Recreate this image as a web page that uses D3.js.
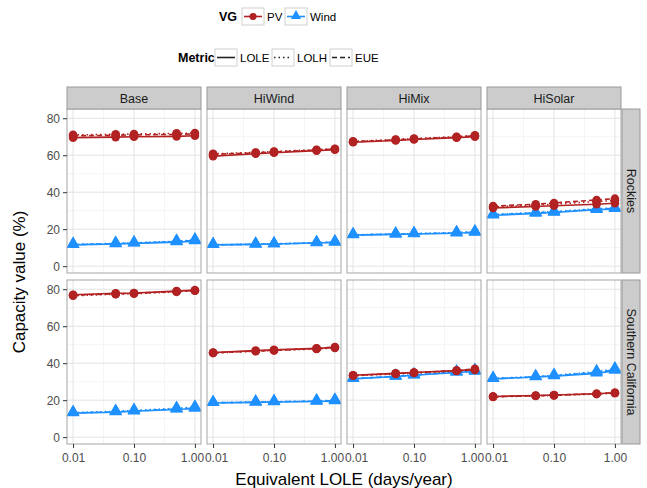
<!DOCTYPE html>
<html>
<head>
<meta charset="utf-8">
<script src="https://cdn.jsdelivr.net/npm/d3@7"></script>
<style>
body { margin: 0; background: #fff; }
text { font-family: "Liberation Sans", Arial, sans-serif; }
</style>
</head>
<body>
<div id="chart"></div>
<script>
// categories
var scenarios = ["Base", "HiWind", "HiMix", "HiSolar"];
var regions = ["Rockies", "Southern California"];
var metrics = ["LOLE", "LOLH", "EUE"];
var vgs = ["PV", "Wind"];
var xVals = [0.01, 0.05, 0.1, 0.5, 1.0];
var xTicks = [0.01, 0.1, 1];
var yTicks = [0, 20, 40, 60, 80];

// values [scenario][metric][x]  (metric order LOLE, LOLH, EUE)
var rockiesPV = [
    [[69.5, 69.8, 70.0, 70.2, 70.5], [71.0, 71.3, 71.5, 71.8, 72.0], [70.5, 70.8, 71.0, 71.3, 71.5]],
    [[59.5, 60.8, 61.3, 62.5, 63.0], [60.8, 61.5, 62.0, 63.0, 63.5], [60.5, 61.3, 61.8, 62.8, 63.3]],
    [[67.0, 68.0, 68.5, 69.5, 70.0], [67.5, 68.5, 69.0, 70.0, 70.8], [67.3, 68.3, 68.8, 69.8, 70.5]],
    [[31.5, 32.3, 32.7, 33.5, 34.0], [32.0, 33.0, 33.5, 35.0, 35.5], [32.5, 33.5, 34.2, 35.8, 36.5]]
];
var rockiesWind = [
    [[11.5, 12.0, 12.3, 13.0, 13.5], [11.8, 12.3, 12.6, 13.5, 14.2], [11.6, 12.2, 12.5, 13.3, 14.0]],
    [[11.5, 11.8, 12.0, 12.5, 12.8], [11.6, 11.9, 12.1, 12.7, 13.1], [11.5, 11.8, 12.0, 12.6, 13.0]],
    [[16.8, 17.2, 17.4, 17.8, 18.2], [17.0, 17.4, 17.6, 18.2, 18.6], [16.9, 17.3, 17.5, 18.0, 18.4]],
    [[27.5, 28.5, 29.0, 30.5, 31.0], [28.0, 29.0, 29.6, 31.0, 31.6], [27.8, 28.8, 29.3, 30.8, 31.3]]
];
var socalPV = [
    [[77.0, 77.8, 78.0, 79.0, 79.5], [76.5, 77.3, 77.6, 78.6, 79.2], [76.8, 77.5, 77.8, 78.8, 79.3]],
    [[45.8, 46.8, 47.2, 48.0, 48.5], [45.5, 46.5, 46.9, 47.7, 48.3], [45.6, 46.6, 47.0, 47.9, 48.8]],
    [[33.5, 34.5, 35.0, 36.0, 36.5], [33.2, 34.2, 34.7, 35.8, 36.3], [33.4, 34.4, 34.9, 36.0, 37.0]],
    [[22.0, 22.5, 22.8, 23.5, 24.0], [21.8, 22.3, 22.6, 23.3, 23.8], [21.9, 22.4, 22.7, 23.5, 24.0]]
];
var socalWind = [
    [[13.0, 13.5, 14.0, 15.0, 15.5], [13.3, 14.0, 14.5, 15.6, 16.3], [13.1, 13.7, 14.2, 15.2, 15.8]],
    [[18.5, 18.8, 19.0, 19.3, 19.5], [18.7, 19.0, 19.2, 19.6, 20.0], [18.6, 18.9, 19.1, 19.5, 19.8]],
    [[31.5, 32.8, 33.5, 35.0, 35.5], [31.7, 33.0, 33.7, 35.3, 36.2], [31.6, 32.9, 33.6, 35.1, 35.8]],
    [[31.5, 32.5, 33.0, 34.5, 36.0], [31.8, 32.8, 33.4, 35.5, 37.0], [31.6, 32.6, 33.2, 35.0, 36.5]]
];
var seriesData = {
    "Rockies": {PV: rockiesPV, Wind: rockiesWind},
    "Southern California": {PV: socalPV, Wind: socalWind}
};

var W = 647, H = 488;
var m = {left: 67, top: 87};
var pw = 134, gap = 6, ph = 164, stripH = 22, stripW = 18;
var rowTop = [109, 280];

var color = {PV: "#B22222", Wind: "#1E90FF"};
var dash = {LOLE: null, LOLH: "1.5,3", EUE: "5,3"};

var x = d3.scaleLog().domain([Math.pow(10, -2.1), Math.pow(10, 0.1)]).range([0, pw]);
var y = d3.scaleLinear().domain([-3.7, 85]).range([ph, 0]);

var svg = d3.select("#chart").append("svg")
    .attr("width", W).attr("height", H);

var line = d3.line()
    .x(function(d) { return x(d[0]); })
    .y(function(d) { return y(d[1]); });

var tri = d3.symbol().type(d3.symbolTriangle).size(70);

regions.forEach(function(reg, ri) {
    scenarios.forEach(function(sc, si) {
        var g = svg.append("g")
            .attr("transform", "translate(" + (m.left + si * (pw + gap)) + "," + rowTop[ri] + ")");
        g.append("rect").attr("width", pw).attr("height", ph).attr("fill", "#fff");
        // minor grid
        [0.0316, 0.316].forEach(function(v) {
            g.append("line").attr("x1", x(v)).attr("x2", x(v)).attr("y1", 0).attr("y2", ph)
                .attr("stroke", "#f4f4f4");
        });
        [10, 30, 50, 70].forEach(function(v) {
            g.append("line").attr("x1", 0).attr("x2", pw).attr("y1", y(v)).attr("y2", y(v))
                .attr("stroke", "#f4f4f4");
        });
        // major grid
        xTicks.forEach(function(v) {
            g.append("line").attr("x1", x(v)).attr("x2", x(v)).attr("y1", 0).attr("y2", ph)
                .attr("stroke", "#e3e3e3");
        });
        yTicks.forEach(function(v) {
            g.append("line").attr("x1", 0).attr("x2", pw).attr("y1", y(v)).attr("y2", y(v))
                .attr("stroke", "#e3e3e3");
        });

        // series: wind first so PV sits on top
        ["Wind", "PV"].forEach(function(vg) {
            metrics.forEach(function(mt, mi) {
                var pts = seriesData[reg][vg][si][mi].map(function(v, i) { return [xVals[i], v]; });
                g.append("path").datum(pts)
                    .attr("d", line)
                    .attr("fill", "none")
                    .attr("stroke", color[vg])
                    .attr("stroke-width", 1.6)
                    .attr("stroke-dasharray", dash[mt]);
                pts.forEach(function(p) {
                    if (vg == "PV") {
                        g.append("circle").attr("cx", x(p[0])).attr("cy", y(p[1])).attr("r", 4.3)
                            .attr("fill", color[vg]);
                    } else {
                        g.append("path").attr("d", tri)
                            .attr("transform", "translate(" + x(p[0]) + "," + (y(p[1]) - 0.5) + ")")
                            .attr("fill", color[vg]);
                    }
                });
            });
        });

        g.append("rect").attr("width", pw).attr("height", ph)
            .attr("fill", "none").attr("stroke", "#a6a6a6");

        // top strips
        if (ri == 0) {
            var st = g.append("g").attr("transform", "translate(0," + (-stripH) + ")");
            st.append("rect").attr("width", pw).attr("height", stripH)
                .attr("fill", "#cccccc").attr("stroke", "#999");
            st.append("text").attr("x", pw / 2).attr("y", stripH / 2 + 4.5)
                .attr("text-anchor", "middle").attr("font-size", 12.5).attr("fill", "#1a1a1a")
                .text(sc);
        }
        // right strips
        if (si == scenarios.length - 1) {
            var rs = g.append("g").attr("transform", "translate(" + (pw + 1) + ",0)");
            rs.append("rect").attr("width", stripW).attr("height", ph)
                .attr("fill", "#cccccc").attr("stroke", "#999");
            rs.append("text")
                .attr("transform", "translate(" + (stripW / 2 - 4.5) + "," + (ph / 2) + ") rotate(90)")
                .attr("text-anchor", "middle").attr("font-size", 12.5).attr("fill", "#1a1a1a")
                .text(reg);
        }
        // y axis
        if (si == 0) {
            var ya = g.append("g").call(d3.axisLeft(y).tickValues(yTicks).tickSize(4).tickPadding(3));
            ya.select(".domain").remove();
            ya.selectAll("line").attr("stroke", "#333");
            ya.selectAll("text").attr("font-size", 12).attr("fill", "#4d4d4d")
                .style("font-family", "Liberation Sans, Arial, sans-serif");
        }
        // x axis
        if (ri == regions.length - 1) {
            var xa = g.append("g").attr("transform", "translate(0," + ph + ")")
                .call(d3.axisBottom(x).tickValues(xTicks).tickFormat(d3.format(".2f"))
                    .tickSize(4).tickPadding(5));
            xa.select(".domain").remove();
            xa.selectAll("line").attr("stroke", "#333");
            xa.selectAll("text").attr("font-size", 12).attr("fill", "#4d4d4d")
                .style("font-family", "Liberation Sans, Arial, sans-serif")
                // nudge the end labels apart where panels meet
                .attr("dx", function(d, i) {
                    if (i == 0 && si > 0) return 3;
                    if (i == xTicks.length - 1 && si < scenarios.length - 1) return -3;
                    return 0;
                });
        }
    });
});

// axis titles
svg.append("text").attr("x", m.left + (4 * pw + 3 * gap) / 2).attr("y", 485)
    .attr("text-anchor", "middle").attr("font-size", 17).text("Equivalent LOLE (days/year)");
svg.append("text").attr("transform", "translate(25,282) rotate(-90)")
    .attr("text-anchor", "middle").attr("font-size", 17).text("Capacity value (%)");

// legends
function legendKey(gk) {
    gk.append("rect").attr("width", 22).attr("height", 17)
        .attr("fill", "#fff").attr("stroke", "#d0d0d0");
}
var lg1 = svg.append("g").attr("transform", "translate(0,8)");
lg1.append("text").attr("x", 219).attr("y", 13).attr("font-size", 12.5)
    .attr("font-weight", "bold").text("VG");
var vgPos = [242, 285];
vgs.forEach(function(vg, i) {
    var k = lg1.append("g").attr("transform", "translate(" + vgPos[i] + ",0)");
    legendKey(k);
    k.append("line").attr("x1", 2).attr("x2", 20).attr("y1", 8.5).attr("y2", 8.5)
        .attr("stroke", color[vg]).attr("stroke-width", 1.6);
    if (vg == "PV") {
        k.append("circle").attr("cx", 11).attr("cy", 8.5).attr("r", 3.5).attr("fill", color[vg]);
    } else {
        k.append("path").attr("d", d3.symbol().type(d3.symbolTriangle).size(45))
            .attr("transform", "translate(11,8)").attr("fill", color[vg]);
    }
    k.append("text").attr("x", 25).attr("y", 13).attr("font-size", 11.5).text(vg);
});

var lg2 = svg.append("g").attr("transform", "translate(0,49)");
lg2.append("text").attr("x", 178).attr("y", 13).attr("font-size", 12.5)
    .attr("font-weight", "bold").text("Metric");
var mPos = [215, 272, 330];
metrics.forEach(function(mt, i) {
    var k = lg2.append("g").attr("transform", "translate(" + mPos[i] + ",0)");
    legendKey(k);
    k.append("line").attr("x1", 2).attr("x2", 20).attr("y1", 8.5).attr("y2", 8.5)
        .attr("stroke", "#222").attr("stroke-width", 1.6)
        .attr("stroke-dasharray", dash[mt]);
    k.append("text").attr("x", 25).attr("y", 13).attr("font-size", 11.5).text(mt);
});
</script>
</body>
</html>
